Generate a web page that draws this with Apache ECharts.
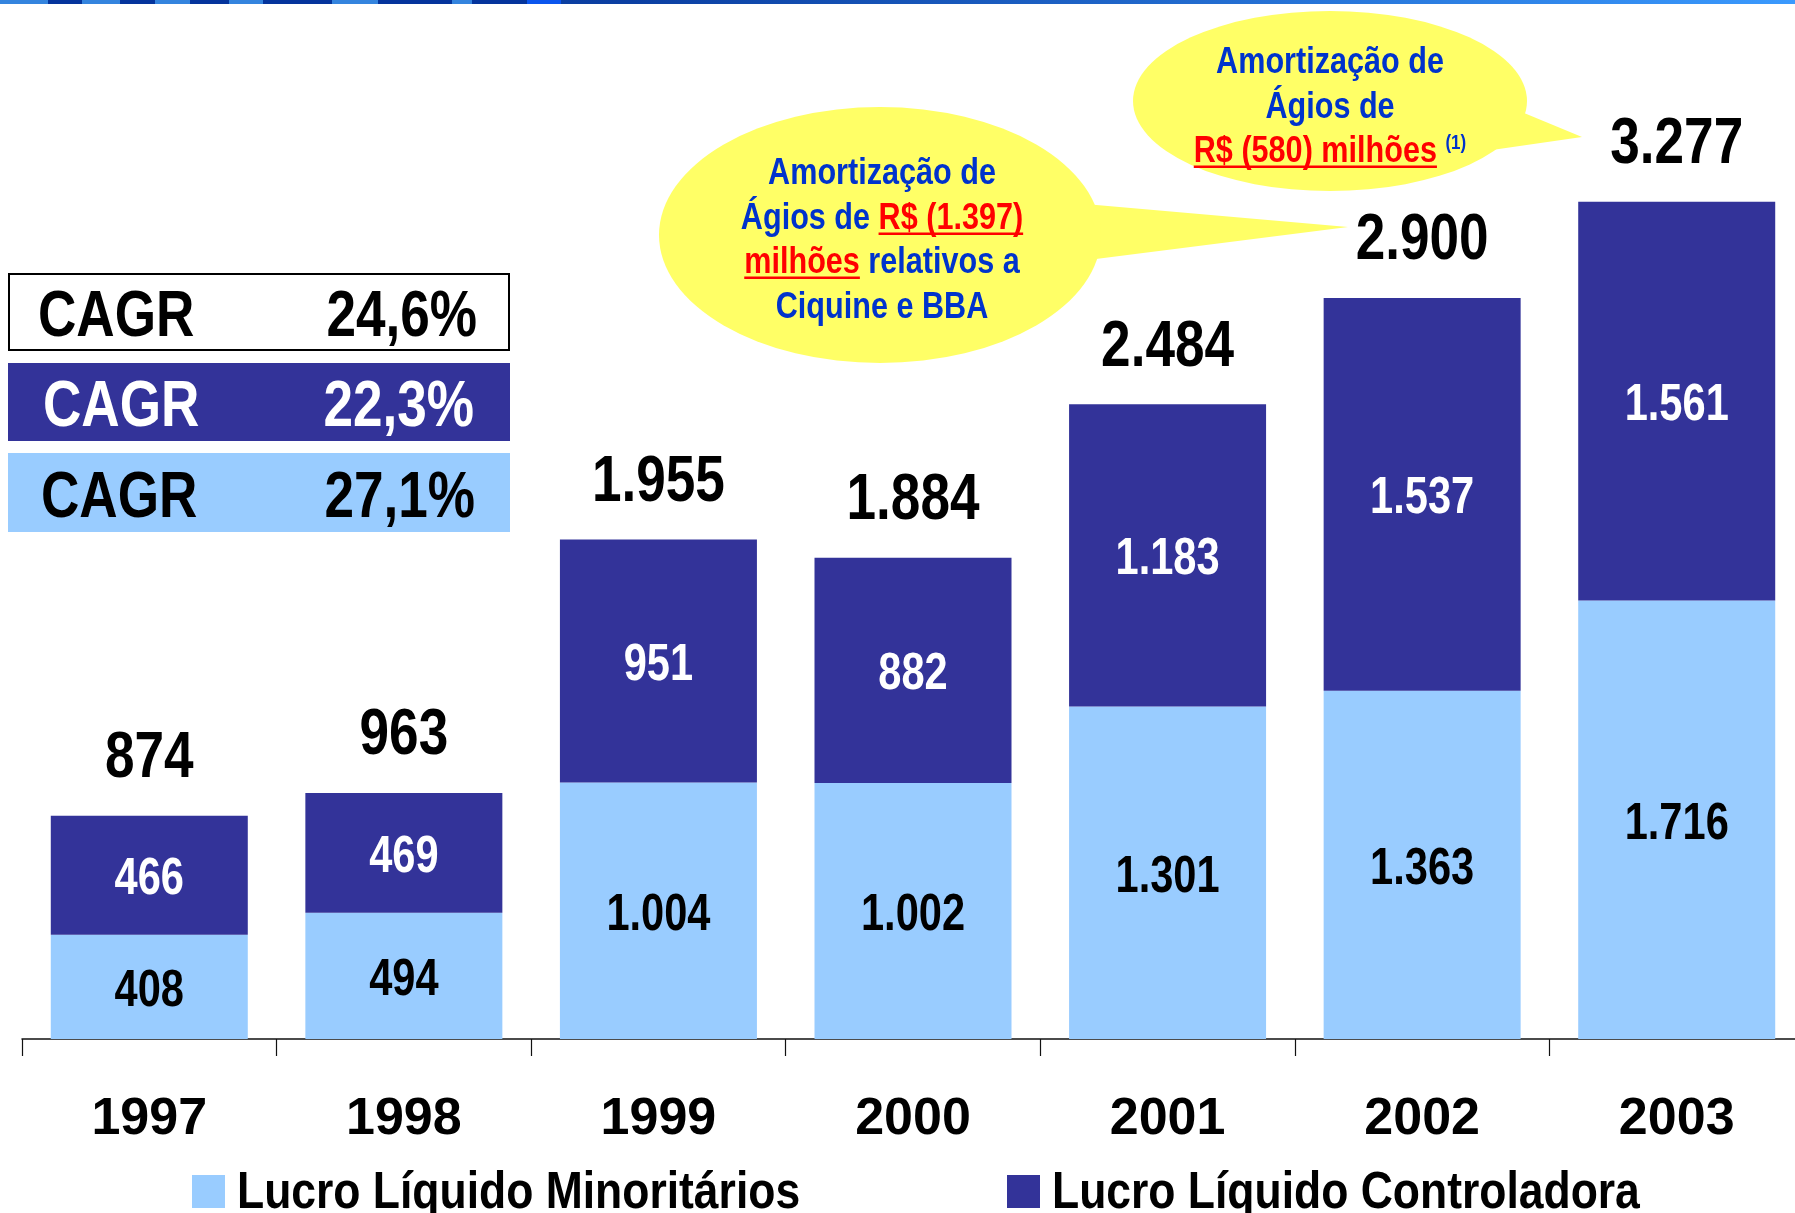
<!DOCTYPE html>
<html>
<head>
<meta charset="utf-8">
<script src="https://cdn.jsdelivr.net/npm/echarts@6/dist/echarts.min.js"></script>
<style>
html,body{margin:0;padding:0;background:#fff;overflow:hidden;}
#chart{width:1812px;height:1213px;}
</style>
</head>
<body>
<div id="chart"></div>
<script>
// ---- data ----
const years = ['1997', '1998', '1999', '2000', '2001', '2002', '2003'];
const minoritarios = [408, 494, 1004, 1002, 1301, 1363, 1716];
const controladora = [466, 469, 951, 882, 1183, 1537, 1561];
const totals = [874, 963, 1955, 1884, 2484, 2900, 3277];
const seriesNames = ['Lucro Líquido Minoritários', 'Lucro Líquido Controladora'];
const cagrLabels = ['CAGR', 'CAGR', 'CAGR'];
const cagrValues = ['24,6%', '22,3%', '27,1%'];
const bubble1Lines = [
  [{t: 'Amortização de'}],
  [{t: 'Ágios de '}, {t: 'R$ (1.397)', red: true}],
  [{t: 'milhões', red: true}, {t: ' relativos a'}],
  [{t: 'Ciquine e BBA'}]
];
const bubble2Lines = [
  [{t: 'Amortização de'}],
  [{t: 'Ágios de'}],
  [{t: 'R$ (580) milhões', red: true}, {t: ' '}, {t: '(1)', sup: true}]
];

// ---- fonts / helpers ----
const FONT = '"Liberation Sans", Arial, sans-serif';
const NX = 0.83;        // horizontal condensing (Arial Narrow look)
const VOFF = 0.09;      // optical shift so digits/caps sit centred
const mctx = document.createElement('canvas').getContext('2d');
function tw(font, s) { mctx.font = font; return mctx.measureText(s).width; }
const fmt = v => String(v).replace(/\B(?=(\d{3})+(?!\d))/g, '.');

const DARK = '#333399', LIGHT = '#99CCFF', BLUE_T = '#0033CC', RED_T = '#FF0000', YELLOW = '#FFFF66';

// ---- graphics ----
const graphics = [];
// header strip (bottom edge of the slide banner)
graphics.push({type: 'rect', shape: {x: 0, y: 0, width: 1812, height: 4},
  style: {fill: new echarts.graphic.LinearGradient(0, 0, 1, 0, [{offset: 0, color: '#0a3a9c'}, {offset: 0.35, color: '#0b3fa2'}, {offset: 1, color: '#3b9bff'}])}, z: 5});
const stripEdges = [0, 48, 82, 120, 155, 190, 229, 263, 332, 378, 452, 472, 527, 561];
for (let k = 0; k < stripEdges.length - 1; k++) {
  const col = k === stripEdges.length - 2 ? '#0a55ee' : (k % 2 === 0 ? '#3484de' : '#04349c');
  graphics.push({type: 'rect', shape: {x: stripEdges[k], y: 0, width: stripEdges[k + 1] - stripEdges[k], height: 4}, style: {fill: col}, z: 5});
}

// CAGR boxes
const boxFills = ['#ffffff', DARK, LIGHT];
const boxText = ['#000000', '#ffffff', '#000000'];
const boxY = [274, 363, 453];
const boxH = [76, 78, 79];
for (let i = 0; i < 3; i++) {
  graphics.push({type: 'rect', shape: {x: i === 0 ? 9 : 8, y: boxY[i], width: i === 0 ? 500 : 502, height: boxH[i]},
    style: {fill: boxFills[i], stroke: i === 0 ? '#000' : null, lineWidth: i === 0 ? 2 : 0}, z: 5});
  const cy = boxY[i] + boxH[i] / 2 + 1 + 64 * VOFF;
  graphics.push({type: 'text', x: [38, 43, 41][i], y: cy, scaleX: NX, style: {text: cagrLabels[i], font: 'bold 64px ' + FONT, fill: boxText[i], align: 'left', verticalAlign: 'middle'}, z: 6});
  graphics.push({type: 'text', x: [477, 474, 475][i], y: cy, scaleX: NX, style: {text: cagrValues[i], font: 'bold 64px ' + FONT, fill: boxText[i], align: 'right', verticalAlign: 'middle'}, z: 6});
}

function bubble(cx, cy, rx, ry, tail) {
  graphics.push({type: 'polygon', shape: {points: tail}, style: {fill: YELLOW}, z: 7});
  graphics.push({type: 'circle', x: cx, y: cy, scaleX: rx / ry, scaleY: 1, shape: {cx: 0, cy: 0, r: ry}, style: {fill: YELLOW}, z: 7});
}
function bubbleText(lines, cx, baselines, fs) {
  const sx = 0.85;
  const font = 'bold ' + fs + 'px ' + FONT;
  const supFont = 'bold ' + Math.round(fs * 0.55) + 'px ' + FONT;
  lines.forEach((segs, li) => {
    const widths = segs.map(s => tw(s.sup ? supFont : font, s.t) * sx);
    const total = widths.reduce((a, b) => a + b, 0);
    let x = cx - total / 2;
    const base = baselines[li];
    segs.forEach((s, si) => {
      if (s.sup) {
        graphics.push({type: 'text', x: x, y: base - fs * 0.5, scaleX: sx, style: {text: s.t, font: supFont, fill: BLUE_T, align: 'left', verticalAlign: 'middle'}, z: 8});
      } else {
        graphics.push({type: 'text', x: x, y: base - fs * (0.35 - VOFF), scaleX: sx, style: {text: s.t, font: font, fill: s.red ? RED_T : BLUE_T, align: 'left', verticalAlign: 'middle'}, z: 8});
        if (s.red) {
          graphics.push({type: 'rect', shape: {x: x, y: base + 4.5, width: widths[si], height: 2.6}, style: {fill: RED_T}, z: 8});
        }
      }
      x += widths[si];
    });
  });
}
bubble(880, 235, 221, 128, [[1085, 204], [1348, 227], [1088, 260]]);
bubbleText(bubble1Lines, 882, [183, 228, 272, 317], 36);
bubble(1330, 101, 197, 90, [[1512, 108], [1582, 137], [1492, 150]]);
bubbleText(bubble2Lines, 1330, [72, 117, 161], 36);

// legend (drawn as graphics so the condensed lettering can be matched)
const legendColors = [LIGHT, DARK];
const legendX = [192, 1007];
seriesNames.forEach((n, i) => {
  graphics.push({type: 'rect', shape: {x: legendX[i], y: 1175, width: 33, height: 33}, style: {fill: legendColors[i]}, z: 5});
  graphics.push({type: 'text', x: legendX[i] + 45, y: 1189 + 52 * VOFF, scaleX: 0.855, style: {text: n, font: 'bold 52px ' + FONT, fill: '#000', align: 'left', verticalAlign: 'middle'}, z: 5});
});

// ---- label renderers (custom series positioned through the axes) ----
function labelItem(api, idx, base, top, mode, color, fs, sx) {
  const p0 = api.coord([idx, base]);
  const p1 = api.coord([idx, top]);
  const y = (mode === 'mid' ? (p0[1] + p1[1]) / 2 : p1[1] - 62) + fs * VOFF;
  return {type: 'text', x: p1[0], y: y, scaleX: sx,
    style: {text: fmt(top - base), font: 'bold ' + fs + 'px ' + FONT, fill: color, align: 'center', verticalAlign: 'middle'}};
}

// ---- chart ----
const chart = echarts.init(document.getElementById('chart'), null, {renderer: 'canvas'});
chart.setOption({
  animation: false,
  backgroundColor: '#ffffff',
  grid: {left: 22, top: 17, width: 1782, height: 1022, containLabel: false},
  xAxis: {
    type: 'category', data: years, boundaryGap: true,
    axisLine: {show: true, lineStyle: {color: '#111', width: 1.5}},
    axisTick: {show: true, length: 17, interval: 0, lineStyle: {color: '#111', width: 1.2}},
    axisLabel: {margin: 81, verticalAlign: 'middle', fontFamily: FONT, fontWeight: 'bold', fontSize: 52, color: '#000', interval: 0}
  },
  yAxis: {type: 'value', min: 0, max: 4000, show: false, splitLine: {show: false}},
  graphic: {elements: graphics},
  series: [
    {
      name: seriesNames[0], type: 'bar', stack: 'lucro', barWidth: 197, data: minoritarios,
      itemStyle: {color: LIGHT}
    },
    {
      name: seriesNames[1], type: 'bar', stack: 'lucro', barWidth: 197, data: controladora,
      itemStyle: {color: DARK}
    },
    {
      name: 'lblMin', type: 'custom', silent: true, z: 4,
      data: minoritarios.map((v, i) => [i, v]), encode: {x: 0, y: 1},
      renderItem: (params, api) => labelItem(api, api.value(0), 0, api.value(1), 'mid', '#000', 52, 0.8)
    },
    {
      name: 'lblCtrl', type: 'custom', silent: true, z: 4,
      data: controladora.map((v, i) => [i, minoritarios[i] + v, minoritarios[i]]), encode: {x: 0, y: 1},
      renderItem: (params, api) => labelItem(api, api.value(0), api.value(2), api.value(1), 'mid', '#fff', 52, 0.8)
    },
    {
      name: 'lblTotal', type: 'custom', silent: true, z: 4,
      data: totals.map((v, i) => [i, v]), encode: {x: 0, y: 1},
      renderItem: (params, api) => labelItem(api, api.value(0), 0, api.value(1), 'top', '#000', 64, 0.83)
    }
  ]
});
</script>
</body>
</html>
